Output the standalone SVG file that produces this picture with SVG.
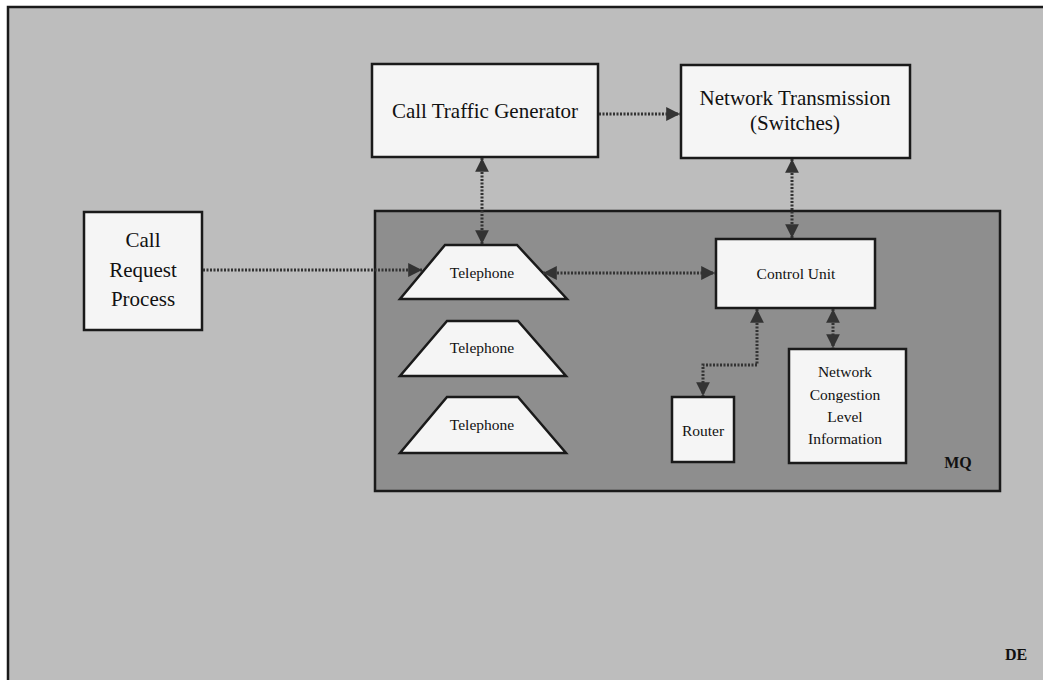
<svg xmlns="http://www.w3.org/2000/svg" width="1043" height="680" viewBox="0 0 1043 680">
<style>
.box{fill:#f5f5f5;stroke:#1a1a1a;stroke-width:2.5}
.t{font-family:"Liberation Serif","Times New Roman",serif;fill:#111;text-anchor:middle}
.big{font-size:21px}
.sm{font-size:15.5px}
.con{fill:none;stroke:#333;stroke-width:3;stroke-dasharray:2 1.5}
</style>
<defs>
<marker id="ah" viewBox="0 0 10 10" refX="10" refY="5" markerWidth="4.6" markerHeight="4.6" orient="auto-start-reverse" markerUnits="strokeWidth">
<path d="M0,0 L10,5 L0,10 Z" fill="#333"/>
</marker>
</defs>
<rect x="0" y="0" width="1043" height="680" fill="#ffffff"/>
<rect id="frame" x="8" y="7" width="1050" height="690" fill="#bdbdbd" stroke="#1a1a1a" stroke-width="2.5"/>
<g id="mq">
<rect x="375" y="211" width="625" height="280" fill="#8e8e8e" stroke="#1a1a1a" stroke-width="2.5"/>
<text class="t" x="958" y="468" font-size="16" font-weight="bold">MQ</text>
</g>
<text id="de" class="t" x="1016" y="660" font-size="16" font-weight="bold">DE</text>
<g id="ctg">
<rect class="box" x="372" y="64" width="226" height="93"/>
<text class="t big" x="485" y="118">Call Traffic Generator</text>
</g>
<g id="nt">
<rect class="box" x="681" y="65" width="229" height="93"/>
<text class="t big" x="795" y="105">Network Transmission</text>
<text class="t big" x="795" y="130">(Switches)</text>
</g>
<g id="crp">
<rect class="box" x="84" y="212" width="118" height="118"/>
<text class="t big" x="143" y="247">Call</text>
<text class="t big" x="143" y="277">Request</text>
<text class="t big" x="143" y="306">Process</text>
</g>
<g id="tel1">
<polygon class="box" points="445,245 517,245 567,299 400,299"/>
<text class="t sm" x="482" y="278">Telephone</text>
</g>
<g id="tel2">
<polygon class="box" points="447,321 518,321 566,376 400,376"/>
<text class="t sm" x="482" y="353">Telephone</text>
</g>
<g id="tel3">
<polygon class="box" points="447,397 518,397 566,453 400,453"/>
<text class="t sm" x="482" y="430">Telephone</text>
</g>
<g id="cu">
<rect class="box" x="716" y="239" width="159" height="69"/>
<text class="t sm" x="796" y="279">Control Unit</text>
</g>
<g id="router">
<rect class="box" x="672" y="397" width="62" height="65"/>
<text class="t sm" x="703" y="436">Router</text>
</g>
<g id="ncl">
<rect class="box" x="789" y="349" width="117" height="114"/>
<text class="t sm" x="845" y="377">Network</text>
<text class="t sm" x="845" y="400">Congestion</text>
<text class="t sm" x="845" y="422">Level</text>
<text class="t sm" x="845" y="444">Information</text>
</g>
<g id="connectors">
<line class="con" x1="599" y1="114" x2="680" y2="114" marker-end="url(#ah)"/>
<line class="con" x1="203" y1="270" x2="422" y2="270" marker-end="url(#ah)"/>
<line class="con" x1="482" y1="158" x2="482" y2="244" marker-start="url(#ah)" marker-end="url(#ah)"/>
<line class="con" x1="543" y1="273" x2="715" y2="273" marker-start="url(#ah)" marker-end="url(#ah)"/>
<line class="con" x1="792" y1="159" x2="792" y2="238" marker-start="url(#ah)" marker-end="url(#ah)"/>
<polyline class="con" points="757,309 757,365 703,365 703,396" marker-start="url(#ah)" marker-end="url(#ah)"/>
<line class="con" x1="833" y1="309" x2="833" y2="348" marker-start="url(#ah)" marker-end="url(#ah)"/>
</g>
</svg>
